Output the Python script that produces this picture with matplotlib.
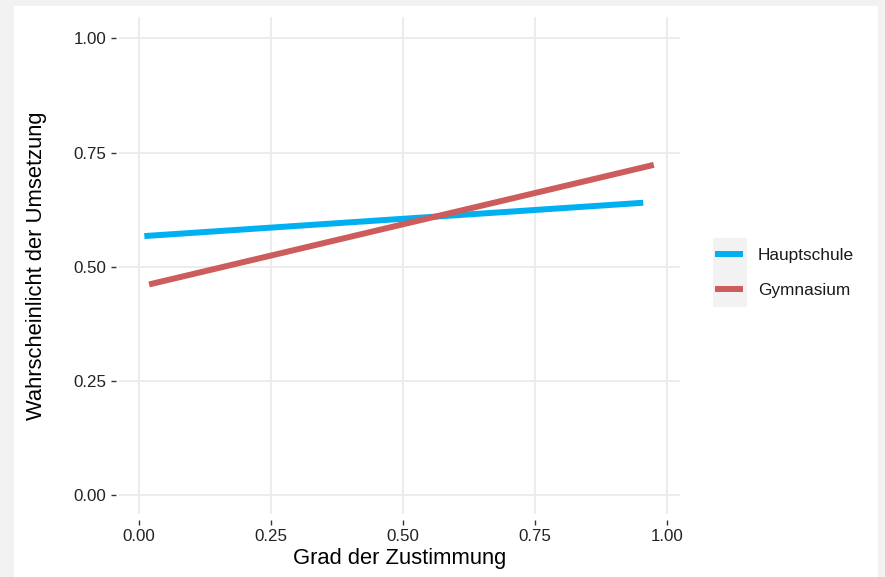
import matplotlib
matplotlib.use("Agg")
import matplotlib.pyplot as plt
from matplotlib.patches import Rectangle

plt.rcParams["font.family"] = ["Liberation Sans", "DejaVu Sans"]

# fitted lines: start / end of each group
groups = ["Hauptschule", "Gymnasium"]
colors = ["#00B0F0", "#CD5C5C"]
x_haupt = [0.010, 0.955]
y_haupt = [0.567, 0.640]
x_gym = [0.019, 0.975]
y_gym = [0.461, 0.723]

ticks = [0.00, 0.25, 0.50, 0.75, 1.00]
tick_labels = ["0.00", "0.25", "0.50", "0.75", "1.00"]

W, H = 885, 577
fig = plt.figure(figsize=(W / 100, H / 100), dpi=100, facecolor="#f2f2f2")
fig.add_artist(Rectangle((14 / W, 0), (878 - 14) / W, 1 - 6 / H,
                         transform=fig.transFigure, facecolor="white",
                         edgecolor="none", zorder=-2))
# legend key background
fig.add_artist(Rectangle((713 / W, 1 - 307 / H), 34 / W, 69 / H,
                         transform=fig.transFigure, facecolor="#f2f2f2",
                         edgecolor="none", zorder=-1))

ax = fig.add_axes([119 / W, 1 - 514 / H, (680 - 119) / W, (514 - 17) / H])
ax.set_facecolor("white")

for xs, ys, c, g in zip([x_haupt, x_gym], [y_haupt, y_gym], colors, groups):
    ax.plot(xs, ys, color=c, lw=4.3, solid_capstyle="butt", label=g, zorder=3)

ax.set_xlim(-0.038, 1.0246)
ax.set_ylim(-0.042, 1.047)
ax.set_xticks(ticks)
ax.set_xticklabels(tick_labels)
ax.set_yticks(ticks)
ax.set_yticklabels(tick_labels)
ax.grid(True, color="#ebebeb", lw=1.3, zorder=0)
ax.set_axisbelow(True)
for s in ax.spines.values():
    s.set_visible(False)
ax.spines["bottom"].set_position(("outward", 4))
ax.spines["left"].set_position(("outward", 2))
ax.tick_params(axis="both", length=3.5, width=1.0, color="#333333",
               labelsize=12.2, labelcolor="#222222")
ax.tick_params(axis="x", pad=3.5)
ax.tick_params(axis="y", pad=3.5)

ax.set_xlabel("Grad der Zustimmung", fontsize=15.8, color="black", labelpad=3)
ax.set_ylabel("Wahrscheinlicht der Umsetzung", fontsize=15.8, color="black",
              labelpad=19)

leg = ax.legend(loc="center left", bbox_to_anchor=(715 / W, 1 - 273 / H),
                bbox_transform=fig.transFigure, frameon=False,
                fontsize=12.4, handlelength=1.65, handletextpad=0.85,
                labelspacing=1.12, borderaxespad=0, borderpad=0)
for t in leg.get_texts():
    t.set_color("#1a1a1a")

fig.savefig("out.png", dpi=100, facecolor=fig.get_facecolor())
